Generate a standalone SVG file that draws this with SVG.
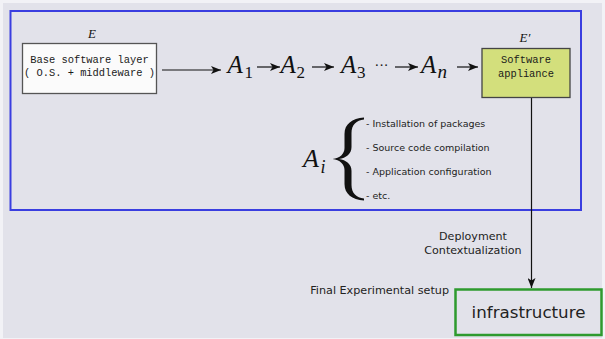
<svg xmlns="http://www.w3.org/2000/svg" width="605" height="339" viewBox="0 0 605 339">
  <defs>
    <marker id="stealth" viewBox="0 0 10 8" refX="10" refY="4" markerWidth="10" markerHeight="8" markerUnits="userSpaceOnUse" orient="auto">
      <path d="M0,0 L10,4 L0,8 L2.5,4 Z" fill="#111"/>
    </marker>
    <style>
      .mono { font-family: "Liberation Mono", "DejaVu Sans Mono", monospace; font-size: 10.4px; fill: #1a1a1a; text-anchor: middle; }
      .math { font-family: "Liberation Serif", "DejaVu Serif", serif; font-style: italic; fill: #111; }
      .sub { font-family: "Liberation Serif", "DejaVu Serif", serif; fill: #111; }
      .sans { font-family: "DejaVu Sans", "Liberation Sans", sans-serif; fill: #222; }
      .conn { stroke: #111; stroke-width: 1.2; fill: none; marker-end: url(#stealth); }
    </style>
  </defs>

  <!-- canvas -->
  <rect x="0" y="0" width="605" height="339" fill="#f2f2f6"/>
  <rect x="3" y="3" width="599" height="335" fill="#e2e2ea"/>

  <!-- environment frame -->
  <rect id="environment" x="10.5" y="11" width="570.5" height="199" fill="none" stroke="#3a3ee0" stroke-width="2"/>

  <!-- connectors -->
  <g id="connectors">
    <line class="conn" x1="162" y1="70" x2="221" y2="70"/>
    <line class="conn" x1="257" y1="67" x2="280" y2="67"/>
    <line class="conn" x1="312" y1="67" x2="334" y2="67"/>
    <line class="conn" x1="395" y1="67" x2="418" y2="67"/>
    <line class="conn" x1="457" y1="67" x2="478" y2="67"/>
    <line class="conn" x1="531.5" y1="98" x2="531.5" y2="288"/>
  </g>

  <!-- base layer node -->
  <g id="base-layer">
    <text class="math" x="92" y="38" font-size="13" text-anchor="middle">E</text>
    <rect x="22.5" y="43.5" width="134" height="50" fill="#fbfbfb" stroke="#555" stroke-width="1.3"/>
    <text class="mono" x="89.5" y="63">Base software layer</text>
    <text class="mono" x="89.5" y="76">( O.S. + middleware )</text>
  </g>

  <!-- action sequence -->
  <g id="actions">
    <text class="math" x="227.5" y="73" font-size="25">A</text>
    <text class="sub" x="244.5" y="78" font-size="17">1</text>
    <text class="math" x="280.5" y="73" font-size="25">A</text>
    <text class="sub" x="296.5" y="78" font-size="17">2</text>
    <text class="math" x="341" y="73" font-size="25">A</text>
    <text class="sub" x="357" y="78" font-size="17">3</text>
    <text class="sub" x="381.5" y="69.5" font-size="14" text-anchor="middle">···</text>
    <text class="math" x="421" y="73" font-size="25">A</text>
    <text class="math" x="437.5" y="78" font-size="19">n</text>
  </g>

  <!-- software appliance node -->
  <g id="appliance">
    <text class="math" x="525" y="42" font-size="13" text-anchor="middle">E′</text>
    <rect x="482" y="48.5" width="88" height="49" fill="#d3df7c" stroke="#444" stroke-width="1.3"/>
    <text class="mono" x="526" y="63">Software</text>
    <text class="mono" x="526" y="77">appliance</text>
  </g>

  <!-- action kinds -->
  <g id="action-kinds">
    <text class="math" x="303" y="167" font-size="26">A</text>
    <text class="math" x="320.5" y="172.5" font-size="18">i</text>
    <path d="M364 117.5 C352 118.5 344.5 124 344.5 134 L344.5 148 C344.5 154 340 158 332.5 159 C340 160 344.5 164 344.5 170 L344.5 184 C344.5 194 352 199.5 364 200.5 L364 198.5 C356.5 198 351.5 193 351.5 185 L351.5 171 C351.5 164 346 160 339 159 C346 158 351.5 154 351.5 147 L351.5 133 C351.5 125 356.5 120 364 119.5 Z" fill="#111"/>
    <text class="sans" x="366" y="127" font-size="9.5">- Installation of packages</text>
    <text class="sans" x="366" y="150.5" font-size="9.5">- Source code compilation</text>
    <text class="sans" x="366" y="174.5" font-size="9.5">- Application configuration</text>
    <text class="sans" x="366" y="198.5" font-size="9.5">- etc.</text>
  </g>

  <!-- deployment labels -->
  <g id="deployment-label">
    <text class="sans" x="473" y="240" font-size="11.1" text-anchor="middle">Deployment</text>
    <text class="sans" x="473" y="253.5" font-size="11.1" text-anchor="middle">Contextualization</text>
  </g>

  <!-- infrastructure node -->
  <g id="infrastructure">
    <text class="sans" x="449" y="294" font-size="11.2" text-anchor="end">Final Experimental setup</text>
    <rect x="455.5" y="289.5" width="146" height="45.5" fill="none" stroke="#2e9a2e" stroke-width="2.5"/>
    <text class="sans" x="528.5" y="317.5" font-size="16.7" text-anchor="middle">infrastructure</text>
  </g>
</svg>
